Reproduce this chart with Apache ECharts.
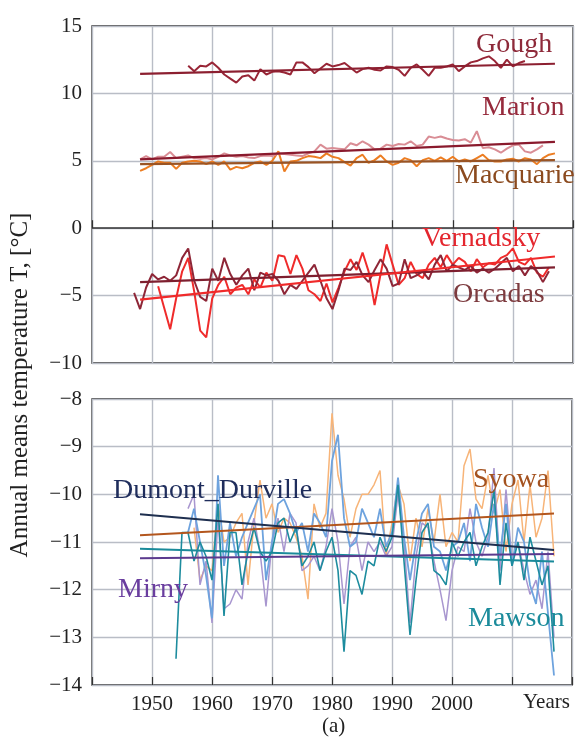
<!DOCTYPE html>
<html>
<head>
<meta charset="utf-8">
<script src="https://cdn.jsdelivr.net/npm/echarts@6/dist/echarts.min.js"></script>
<style>
html,body{margin:0;padding:0;background:#fff;}
#c{width:575px;height:738px;}
</style>
</head>
<body>
<div id="c"></div>
<script>
// ---------- DATA ----------
const xTicks = [1950, 1960, 1970, 1980, 1990, 2000];
const trendYears = [1948, 2017];

// Top panel (sub-Antarctic / peninsula stations)
const goughStart = 1956;
const goughValues = [12.05, 11.65, 12.05, 12.0, 12.3, 11.9, 11.4, 11.1, 10.8, 11.25, 11.35, 10.95, 11.8, 11.4, 11.6, 11.65, 11.55, 11.4, 12.3, 12.3, 11.95, 11.5, 11.85, 12.2, 12.0, 12.1, 12.25, 11.9, 11.55, 11.8, 11.9, 11.75, 11.7, 12.0, 11.95, 11.75, 11.3, 11.9, 12.15, 11.75, 11.3, 11.9, 11.9, 12.0, 12.15, 11.65, 12.0, 12.3, 12.4, 12.6, 12.75, 12.4, 11.9, 12.5, 12.0, 12.25, 12.4];
const goughTrend = [11.45, 12.2];

const marionStart = 1948;
const marionValues = [5.1, 5.35, 5.1, 5.3, 5.3, 5.65, 5.2, 5.3, 5.4, 5.2, 5.15, 5.2, 5.1, 5.3, 5.55, 5.4, 5.3, 5.35, 5.25, 5.2, 5.35, 5.4, 5.35, 5.55, 5.5, 5.45, 5.4, 5.35, 5.55, 5.7, 6.2, 5.9, 5.95, 5.9, 5.85, 6.3,
  6.15, 6.45, 6.2, 5.85, 5.9, 6.2, 6.1, 6.25, 6.2, 6.45, 6.1, 6.2, 6.8, 6.7, 6.8, 6.65, 6.55, 6.5, 6.6, 6.35, 7.2, 5.95, 6.0, 5.85, 5.6, 5.9, 6.15, 6.2, 5.7, 5.6, 5.85, 6.15];
const marionTrend = [5.1, 6.4];

const macquarieStart = 1948;
const macquarieValues = [4.25, 4.45, 4.7, 4.95, 4.85, 4.85, 4.4, 4.85, 4.95, 5.0, 4.95, 4.75, 4.95, 4.7, 4.95, 4.35, 4.55, 4.45, 4.6, 4.85, 4.95, 4.7, 5.0, 5.7, 4.2, 4.95, 5.0, 5.2, 5.35, 5.3, 5.2, 5.55, 5.3, 5.2, 4.9, 4.65,
  5.2, 5.45, 4.85, 5.05, 5.4, 4.95, 4.7, 4.85, 5.2, 5.05, 4.6, 5.05, 5.2, 5.0, 5.25, 5.0, 5.3, 4.95, 5.1, 4.95, 5.2, 5.45, 5.05, 4.95, 4.95, 5.1, 5.15, 4.95, 5.2, 5.1, 4.75, 5.2, 5.45, 5.55];
const macquarieTrend = [4.75, 5.05];

const orcadasStart = 1947;
const orcadasValues = [-4.8, -6.0, -4.4, -3.4, -3.8, -3.6, -3.9, -3.5, -2.2, -1.5, -3.9, -5.1, -5.4, -3.0, -3.9, -2.2, -3.4, -4.2, -3.5, -3.0, -4.6, -3.3, -3.5, -3.4, -3.9, -4.9, -4.2, -4.5, -3.9, -3.3, -2.7, -3.9, -5.2, -6.0, -4.6, -3.0, -3.1,
  -2.5, -3.5, -4.0, -3.1, -2.3, -3.0, -4.3, -4.1, -2.3, -3.7, -3.5, -3.2, -3.8, -2.7, -2.0, -3.2, -2.7, -2.9, -3.1, -2.8, -3.3, -3.0, -3.3, -3.0, -2.6, -2.2, -3.2, -2.8, -3.5, -2.8, -3.2, -4.0, -3.2];
const orcadasTrend = [-4.0, -2.9];

const vernadskyStart = 1951;
const vernadskyValues = [-4.3, -5.9, -7.5, -5.2, -3.2, -2.2, -4.7, -7.6, -8.1, -5.2, -4.2, -3.6, -4.9, -4.4, -4.2, -4.9, -3.8, -4.4, -3.3, -3.9, -2.0, -2.1, -3.4, -2.0, -3.0, -4.6, -4.9, -5.4, -4.1, -5.5, -4.4, -3.2, -2.3,
  -3.1, -1.8, -3.2, -5.7, -3.4, -1.2, -2.7, -4.2, -3.7, -2.5, -3.4, -3.7, -2.7, -2.2, -2.9, -2.0, -2.7, -2.2, -2.5, -3.2, -2.3, -2.9, -2.6, -2.7, -2.2, -2.0, -1.5, -2.5, -2.7, -2.2, -3.3, -3.6, -2.9];
const vernadskyTrend = [-5.3, -2.1];

// Bottom panel (East Antarctic coast stations)
const syowaStart = 1957;
const syowaValues = [-10.7, -11.8, -11.5, -11.6, -10.2, -11.0, -10.9, -10.6, -10.4, -11.9,
  -10.6, -9.7, -10.5, -10.2, -10.8, -10.5, -10.6, -10.9, -11.3, -12.2,
  -10.2, -10.7, -10.4, -8.3, -9.6, -10.1, -10.9, -10.3, -10.0, -10.0,
  -9.8, -9.5, -11.3, -10.6, -9.8, -10.2, -11.4, -10.5, -11.1, -10.3,
  -11.0, -10.0, -11.1, -10.8, -11.0, -9.4, -9.05, -10.1, -10.3, -9.6,
  -10.4, -9.9, -11.2, -10.2, -9.7, -11.0, -9.8, -10.9, -10.5, -9.5, -11.3];
const syowaTrend = [-10.86, -10.4];

const dumontStart = 1956;
const dumontValues = [-10.8, -10.3, -11.0, -11.7, -12.6, -9.6, -11.5, -10.6, -11.3, -10.9,
  -10.6, -10.3, -10.0, -11.8, -11.0, -10.2, -10.1, -10.4, -10.8, -10.6,
  -11.2, -10.4, -10.6, -10.9, -9.3, -8.75, -10.5, -11.1, -11.0, -10.3,
  -10.6, -10.9, -10.3, -11.1, -10.8, -9.65, -10.9, -11.8, -11.0, -10.4,
  -10.2, -11.1, -11.2, -11.6, -11.1, -11.0, -10.6, -11.4, -10.2, -10.7,
  -11.1, -10.2, -11.3, -10.2, -11.5, -10.7, -11.0, -11.9, -12.3, -11.2, -12.5, -13.8];
const dumontTrend = [-10.42, -11.17];

const mawsonStart = 1954;
const mawsonValues = [-13.45, -10.8, -10.8, -11.4, -11.0, -11.3, -11.8, -10.2, -12.55, -10.8,
  -10.8, -11.9, -11.2, -10.7, -11.2, -11.4, -11.2, -10.6, -10.5, -11.0,
  -10.7, -11.5, -11.3, -11.0, -11.6, -11.2, -10.9, -11.6, -13.3, -11.6,
  -11.7, -12.1, -11.4, -11.5, -10.9, -11.2, -10.9, -9.8, -11.4, -12.95,
  -11.8, -10.8, -10.6, -11.6, -11.7, -11.9, -11.0, -11.3, -11.0, -10.8,
  -11.5, -11.1, -10.8, -9.9, -11.9, -10.6, -11.5, -11.0, -11.8, -10.9,
  -11.4, -11.9, -11.5, -13.3];
const mawsonTrend = [-11.14, -11.41];

const mirnyStart = 1956;
const mirnyValues = [-10.3, -10.0, -11.9, -11.4, -12.7, -10.5, -12.4, -12.3, -12.0, -12.2,
  -11.0, -10.5, -11.2, -12.35, -11.0, -10.5, -11.2, -10.4, -10.6, -11.6,
  -11.5, -11.3, -11.6, -11.1, -10.3, -11.0, -12.3, -11.1, -10.9, -11.6,
  -11.0, -11.2, -11.0, -11.3, -11.1, -10.0, -11.0, -12.7, -11.3, -10.6,
  -10.7, -11.4, -12.0, -12.65, -11.6, -11.1, -11.2, -10.3, -11.0, -11.3,
  -10.9, -9.45, -11.6, -9.9, -11.4, -11.0, -11.6, -12.1, -11.8, -12.4, -11.2, -13.0];
const mirnyTrend = [-11.34, -11.25];

// ---------- CHART ----------
const FONT = '"Liberation Serif", "DejaVu Serif", serif';
const pairs = (start, vals) => vals.map((v, i) => [start + i, v]);
const tpairs = (vals) => vals.map((v, i) => [trendYears[i], v]);
const minus = v => (v < 0 ? '\u2212' + Math.abs(v) : String(v));

function dataLine(name, gi, start, vals, color, width) {
  return { name, type: 'line', xAxisIndex: gi, yAxisIndex: gi, data: pairs(start, vals),
    showSymbol: false, symbol: 'none', lineStyle: { color, width }, silent: true, animation: false, z: 2 };
}
function trendLine(name, gi, vals, color, width) {
  return { name: name + ' trend', type: 'line', xAxisIndex: gi, yAxisIndex: gi, data: tpairs(vals),
    showSymbol: false, symbol: 'none', lineStyle: { color, width }, silent: true, animation: false, z: 4 };
}

const gridStyle = { show: true, borderColor: '#222', borderWidth: 1.3, backgroundColor: 'rgba(0,0,0,0)' };
const xBase = (gi, showLabels) => ({
  type: 'value', gridIndex: gi, min: 1940, max: 2020, interval: 10,
  axisLine: { show: false },
  axisTick: { show: true, inside: true, length: 8, lineStyle: { color: '#333', width: 1.2 } },
  splitLine: { show: true, lineStyle: { color: '#b9bdc6', width: 1.4 } },
  axisLabel: { show: showLabels, fontFamily: FONT, fontSize: 21, color: '#222', margin: 9,
    formatter: v => (xTicks.indexOf(v) >= 0 ? String(v) : '') }
});
const yBase = (gi, min, max, interval) => ({
  type: 'value', gridIndex: gi, min, max, interval,
  axisLine: { show: false }, axisTick: { show: false },
  splitLine: { show: true, lineStyle: { color: '#b9bdc6', width: 1.4 } },
  axisLabel: { fontFamily: FONT, fontSize: 21, color: '#222', margin: 10, formatter: minus }
});

// baseline y -> box top for 28px serif text
const labelText = (text, x, baseline, color) => ({
  type: 'text', left: x, top: baseline - 22, z: 10,
  style: { text, fill: color, font: '28px ' + FONT }
});

const zeroSeries = {
  name: 'zero', type: 'line', xAxisIndex: 0, yAxisIndex: 0, data: [], silent: true, animation: false,
  markLine: { silent: true, symbol: 'none', label: { show: false },
    lineStyle: { color: '#333', width: 1.5, type: 'solid' }, data: [{ yAxis: 0 }] }
};

const option = {
  backgroundColor: '#fff',
  animation: false,
  grid: [
    Object.assign({ left: 92, top: 26, width: 481, height: 337 }, gridStyle),
    Object.assign({ left: 92, top: 399, width: 481, height: 286 }, gridStyle)
  ],
  xAxis: [xBase(0, false), xBase(1, true)],
  yAxis: [yBase(0, -10, 15, 5), yBase(1, -14, -8, 1)],
  series: [
    zeroSeries,
    dataLine('Macquarie', 0, macquarieStart, macquarieValues, '#ec7d22', 2),
    dataLine('Marion', 0, marionStart, marionValues, '#d98d95', 2),
    dataLine('Gough', 0, goughStart, goughValues, '#982536', 2),
    dataLine('Vernadsky', 0, vernadskyStart, vernadskyValues, '#ef2b2b', 2),
    dataLine('Orcadas', 0, orcadasStart, orcadasValues, '#8e2637', 2),
    trendLine('Gough', 0, goughTrend, '#8c1f30', 2.2),
    trendLine('Marion', 0, marionTrend, '#8a1a2d', 2.2),
    trendLine('Macquarie', 0, macquarieTrend, '#9a5424', 2.2),
    trendLine('Orcadas', 0, orcadasTrend, '#7e1f2f', 2.2),
    trendLine('Vernadsky', 0, vernadskyTrend, '#f02a2a', 2.2),

    dataLine('Syowa', 1, syowaStart, syowaValues, '#f7b478', 1.5),
    dataLine('Mirny', 1, mirnyStart, mirnyValues, '#a896cf', 1.5),
    dataLine('Dumont_Durville', 1, dumontStart, dumontValues, '#6ea3de', 1.8),
    dataLine('Mawson', 1, mawsonStart, mawsonValues, '#1d8c9e', 1.6),
    trendLine('Syowa', 1, syowaTrend, '#b3561d', 2),
    trendLine('Dumont_Durville', 1, dumontTrend, '#1e2f4f', 2),
    trendLine('Mawson', 1, mawsonTrend, '#1a8a9a', 2),
    trendLine('Mirny', 1, mirnyTrend, '#5b3a8e', 2)
  ],
  graphic: [
    labelText('Gough', 476, 53, '#8e2a3a'),
    labelText('Marion', 482, 116, '#962a3c'),
    labelText('Macquarie', 455, 184, '#8b4a1e'),
    labelText('Vernadsky', 422, 247, '#e4262e'),
    labelText('Orcadas', 453, 303, '#7d3b3f'),
    labelText('Dumont_Durville', 113, 499, '#1f2d5c'),
    labelText('Syowa', 473, 488, '#a4521f'),
    labelText('Mirny', 118, 598, '#6a3e9f'),
    labelText('Mawson', 468, 627, '#1b8b9b'),
    { type: 'text', left: 523, top: 692, z: 10,
      style: { text: 'Years', fill: '#222', font: '21px ' + FONT } },
    { type: 'text', left: 322, top: 716, z: 10,
      style: { text: '(a)', fill: '#222', font: '21px ' + FONT } },
    { type: 'text', x: 20, y: 385, rotation: Math.PI / 2, z: 10,
      style: { text: 'Annual means temperature T, [°C]', fill: '#222', font: '25px ' + FONT,
        textAlign: 'center', textVerticalAlign: 'middle' } }
  ]
};

const chart = echarts.init(document.getElementById('c'), null, { renderer: 'canvas' });
chart.setOption(option);
</script>
</body>
</html>
